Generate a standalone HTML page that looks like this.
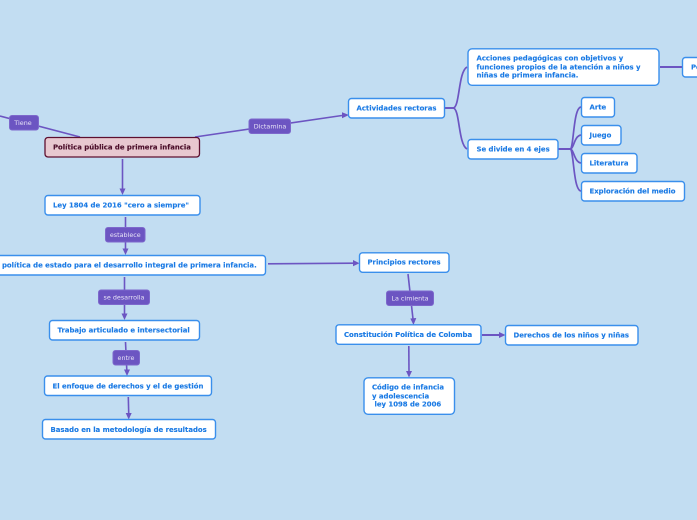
<!DOCTYPE html>
<html><head><meta charset="utf-8">
<style>
html,body{margin:0;padding:0;background:#c2ddf2;width:697px;height:520px;overflow:hidden}
svg{display:block}
text{font-family:"DejaVu Sans",sans-serif}
.n rect{fill:#fff;stroke:#3a8fec;stroke-width:1.4}
.n text{font-size:6.9px;font-weight:bold;fill:#1a7ae4;stroke:#1a7ae4;stroke-width:.12;transform:translateY(-.7px)}
.l rect{fill:#6c55c2;stroke:#7d68cc;stroke-width:1}
.l text{font-size:6.4px;fill:#e6e2f6;text-anchor:middle;transform:translateY(-.4px)}
.c{fill:none;stroke:#6c55c2;stroke-width:1.6}
.a{fill:#6c55c2}
</style></head><body>
<svg width="697" height="520" viewBox="0 0 697 520" xmlns="http://www.w3.org/2000/svg">
<rect width="697" height="520" fill="#c2ddf2"/>
<g class="c">
<path d="M0 116L80 137"/>
<path d="M195 137L342 115.500"/>
<path d="M122.500 159L122.500 190"/>
<path d="M125.500 217L125.500 249"/>
<path d="M124.500 277L124.500 314"/>
<path d="M125.500 342L126.800 370"/>
<path d="M128.300 397L128.700 413"/>
<path d="M268 263.800L353 263.200"/>
<path d="M408 274L413 319"/>
<path d="M482 335L499 335" stroke-width="2"/>
<path d="M408.800 346L409 372"/>
<path d="M445 108H453C460 108 458 72 467 67" stroke-width="1.700"/>
<path d="M445 108H453C460 108 458 144 467 149" stroke-width="1.700"/>
<path d="M660 67H682" stroke-width="2"/>
<path d="M558 149H570C574 149 573 108 581 107" stroke-width="1.700"/>
<path d="M558 149H570C574 149 574 136 581 135" stroke-width="1.700"/>
<path d="M558 149H570C574 149 574 162 581 163" stroke-width="1.700"/>
<path d="M558 149H570C574 149 573 190 581 191" stroke-width="1.700"/>
</g>
<g class="a">
<path d="M119.500 188.500L125.500 188.500L122.500 195Z"/>
<path d="M122.500 248.500L128.500 248.500L125.500 255Z"/>
<path d="M121.500 313.500L127.500 313.500L124.500 320Z"/>
<path d="M124 369.500L130 369.500L127 376Z"/>
<path d="M125.700 413L131.700 413L128.700 419.500Z"/>
<path d="M342 112.300L349 115L342 118.300Z"/>
<path d="M353 260L359.500 263.200L353 266.300Z"/>
<path d="M410.300 318.500L416.300 318L413.500 325Z"/>
<path d="M499 332L505.500 335L499 338Z"/>
<path d="M406 371L412 371L409 377.500Z"/>
</g>
<g>
<rect x="45" y="137.500" width="154.500" height="19.500" rx="3" fill="#e8c8d0" stroke="#5e1030" stroke-width="1.300"/>
<text x="53" y="149.500" font-size="6.900" font-weight="bold" fill="#4a0c28" stroke="#4a0c28" stroke-width=".12">Política pública de primera infancia</text>
</g>
<g class="n">
<rect x="45" y="195.500" width="155" height="19.500" rx="3"/><text x="53" y="208">Ley 1804 de 2016 "cero a siempre"</text>
<rect x="-20" y="255.500" width="285.500" height="19.500" rx="3"/><text x="2" y="268">política de estado para el desarrollo integral de primera infancia.</text>
<rect x="49.500" y="320.500" width="150" height="19.500" rx="3"/><text x="57.500" y="333">Trabajo articulado e intersectorial</text>
<rect x="44.500" y="376" width="167" height="19.500" rx="3"/><text x="52.500" y="389">El enfoque de derechos y el de gestión</text>
<rect x="42.500" y="419.500" width="173" height="19.500" rx="3"/><text x="50.500" y="432.500">Basado en la metodología de resultados</text>
<rect x="348.500" y="98.500" width="96" height="19.500" rx="3"/><text x="356.500" y="111">Actividades rectoras</text>
<rect x="468" y="48.800" width="191" height="36.500" rx="4"/>
<text x="476.500" y="61">Acciones pedagógicas con objetivos y</text>
<text x="476.500" y="70">funciones propios de la atención a niños y</text>
<text x="476.500" y="78">niñas de primera infancia.</text>
<rect x="682.500" y="57.500" width="30" height="19.500" rx="3"/><text x="691" y="70">Pe</text>
<rect x="468" y="139.500" width="90" height="19.500" rx="3"/><text x="476.500" y="152">Se divide en 4 ejes</text>
<rect x="581.500" y="97.500" width="33" height="19.500" rx="3"/><text x="589.500" y="110">Arte</text>
<rect x="581.500" y="125.500" width="39.500" height="19.500" rx="3"/><text x="589.500" y="138">Juego</text>
<rect x="581.500" y="153.500" width="55.500" height="19.500" rx="3"/><text x="589.500" y="166">Literatura</text>
<rect x="581.500" y="181.500" width="103" height="19.500" rx="3"/><text x="589.500" y="194">Exploración del medio</text>
<rect x="359.500" y="252.800" width="89.500" height="19.500" rx="3"/><text x="367.500" y="265">Principios rectores</text>
<rect x="336" y="324.800" width="145" height="19.500" rx="3"/><text x="344" y="337.500">Constitución Política de Colomba</text>
<rect x="505.500" y="325.500" width="132.500" height="19.500" rx="3"/><text x="513.500" y="338">Derechos de los niños y niñas</text>
<rect x="364" y="377.800" width="90.500" height="36.500" rx="4"/>
<text x="372" y="390">Código de infancia</text>
<text x="372" y="399">y adolescencia</text>
<text x="374.500" y="407">ley 1098 de 2006</text>
</g>
<g class="l">
<rect x="9.500" y="115.500" width="29" height="14.500" rx="2.500"/><text x="23" y="125.500">Tiene</text>
<rect x="249" y="119" width="41.500" height="14.500" rx="2.500"/><text x="270" y="129">Dictamina</text>
<rect x="105.500" y="227.500" width="39.500" height="14.500" rx="2.500"/><text x="125.300" y="237.500">establece</text>
<rect x="98.500" y="290" width="51" height="14.500" rx="2.500"/><text x="124" y="300">se desarrolla</text>
<rect x="113" y="350.500" width="26.500" height="14.500" rx="2.500"/><text x="126" y="360.500">entre</text>
<rect x="386.500" y="291" width="47" height="14.500" rx="2.500"/><text x="410" y="301">La cimienta</text>
</g>
</svg>
</body></html>
